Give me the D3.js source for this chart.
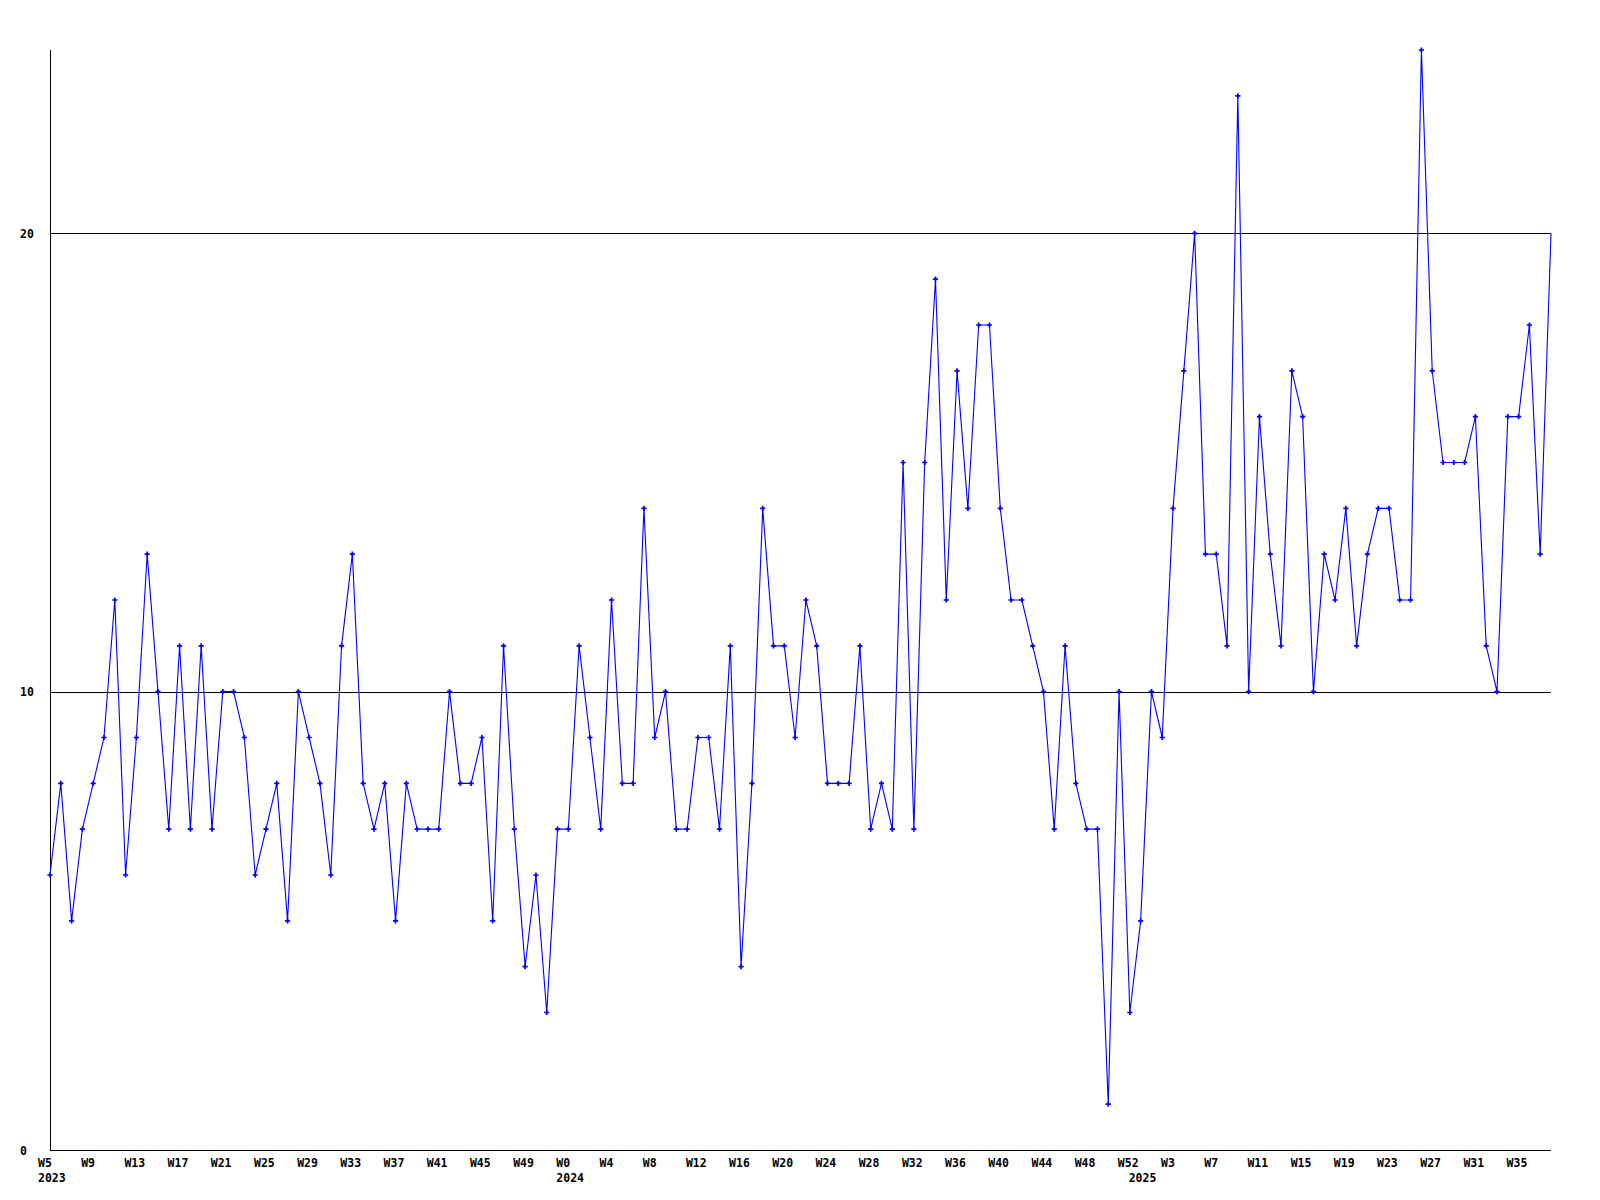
<!DOCTYPE html>
<html>
<head>
<meta charset="utf-8">
<script src="https://cdn.jsdelivr.net/npm/d3@7"></script>
<style>
  html, body { margin: 0; padding: 0; background: #fff; }
  text { font-family: "DejaVu Sans Mono", "Liberation Mono", monospace; font-weight: bold; font-size: 11.5px; fill: #000; }
</style>
</head>
<body>
<svg id="chart" width="1600" height="1200"></svg>
<script>
// ---- data ----
const years = [2023, 2024, 2025];
const weeks2023 = d3.range(5, 53);   // W5 .. W52
const weeks2024 = d3.range(0, 53);   // W0 .. W52
const weeks2025 = d3.range(0, 39);   // W0 .. W38
const values2023 = [6,8,5,7,8,9,12,6,9,13, 10,7,11,7,11,7,10,10,9,6,
                    7,8,5,10,9,8,6,11,13,8, 7,8,5,8,7,7,7,10,8,8,
                    9,5,11,7,4,6,3,7];
const values2024 = [7,11,9,7,12,8,8,14,9,10, 7,7,9,9,7,11,4,8,14,11,
                    11,9,12,11,8,8,8,11,7,8, 7,15,7,15,19,12,17,14,18,18,
                    14,12,12,11,10,7,11,8,7,7, 1,10,3];
const values2025 = [5,10,9,14,17,20,13,13,11,23, 10,16,13,11,17,16,10,13,12,14,
                    11,13,14,14,12,12,24,17,15,15, 15,16,11,10,16,16,18,13,20];
const yTicks = [0, 10, 20];
const tickEvery = 4;

// ---- build table ----
const weekLists = [weeks2023, weeks2024, weeks2025];
const valueLists = [values2023, values2024, values2025];
const data = [];
years.forEach((yr, i) => {
  weekLists[i].forEach((w, j) => {
    data.push({ key: yr + "-W" + w, year: yr, week: w, value: valueLists[i][j], firstOfYear: j === 0 });
  });
});

// ---- layout ----
const mLeft = 50, mRight = 1551, mTop = 50, mBottom = 1150;
const svg = d3.select("#chart");

const x = d3.scalePoint().domain(data.map(d => d.key)).range([mLeft, mRight]);
const y = d3.scaleLinear().domain([0, d3.max(data, d => d.value)]).range([mBottom, mTop]);

// gridlines (at non-zero ticks)
svg.append("g").selectAll("line").data(yTicks.filter(t => t > 0)).join("line")
  .attr("x1", mLeft).attr("x2", mRight)
  .attr("y1", d => Math.round(y(d)) + 0.5).attr("y2", d => Math.round(y(d)) + 0.5)
  .attr("stroke", "#000").attr("stroke-width", 1).attr("shape-rendering", "crispEdges");

// axes lines
svg.append("line").attr("x1", mLeft + 0.5).attr("x2", mLeft + 0.5).attr("y1", mTop).attr("y2", mBottom)
  .attr("stroke", "#000").attr("shape-rendering", "crispEdges");
svg.append("line").attr("x1", mLeft).attr("x2", mRight).attr("y1", mBottom + 0.5).attr("y2", mBottom + 0.5)
  .attr("stroke", "#000").attr("shape-rendering", "crispEdges");

// y labels
svg.append("g").selectAll("text").data(yTicks).join("text")
  .attr("x", 20).attr("y", d => y(d) + 4.5)
  .text(d => d);

// x week labels
svg.append("g").selectAll("text").data(data.filter((d, i) => i % tickEvery === 0)).join("text")
  .attr("x", d => x(d.key) - 12).attr("y", 1167)
  .text(d => "W" + d.week);

// year labels
svg.append("g").selectAll("text").data(data.filter(d => d.firstOfYear)).join("text")
  .attr("x", d => x(d.key) - 12).attr("y", 1182)
  .text(d => d.year);

// line
svg.append("path").datum(data)
  .attr("fill", "none").attr("stroke", "#0000ff").attr("stroke-width", 1.1)
  .attr("d", d3.line().x(d => x(d.key)).y(d => y(d.value)));

// markers (the last point carries no marker in the reference)
const sym = d3.symbol().type(d3.symbolCross).size(15);
svg.append("g").selectAll("path").data(data.slice(0, -1)).join("path")
  .attr("transform", d => `translate(${x(d.key)},${y(d.value)})`)
  .attr("d", sym).attr("fill", "#0000ff");
</script>
</body>
</html>
